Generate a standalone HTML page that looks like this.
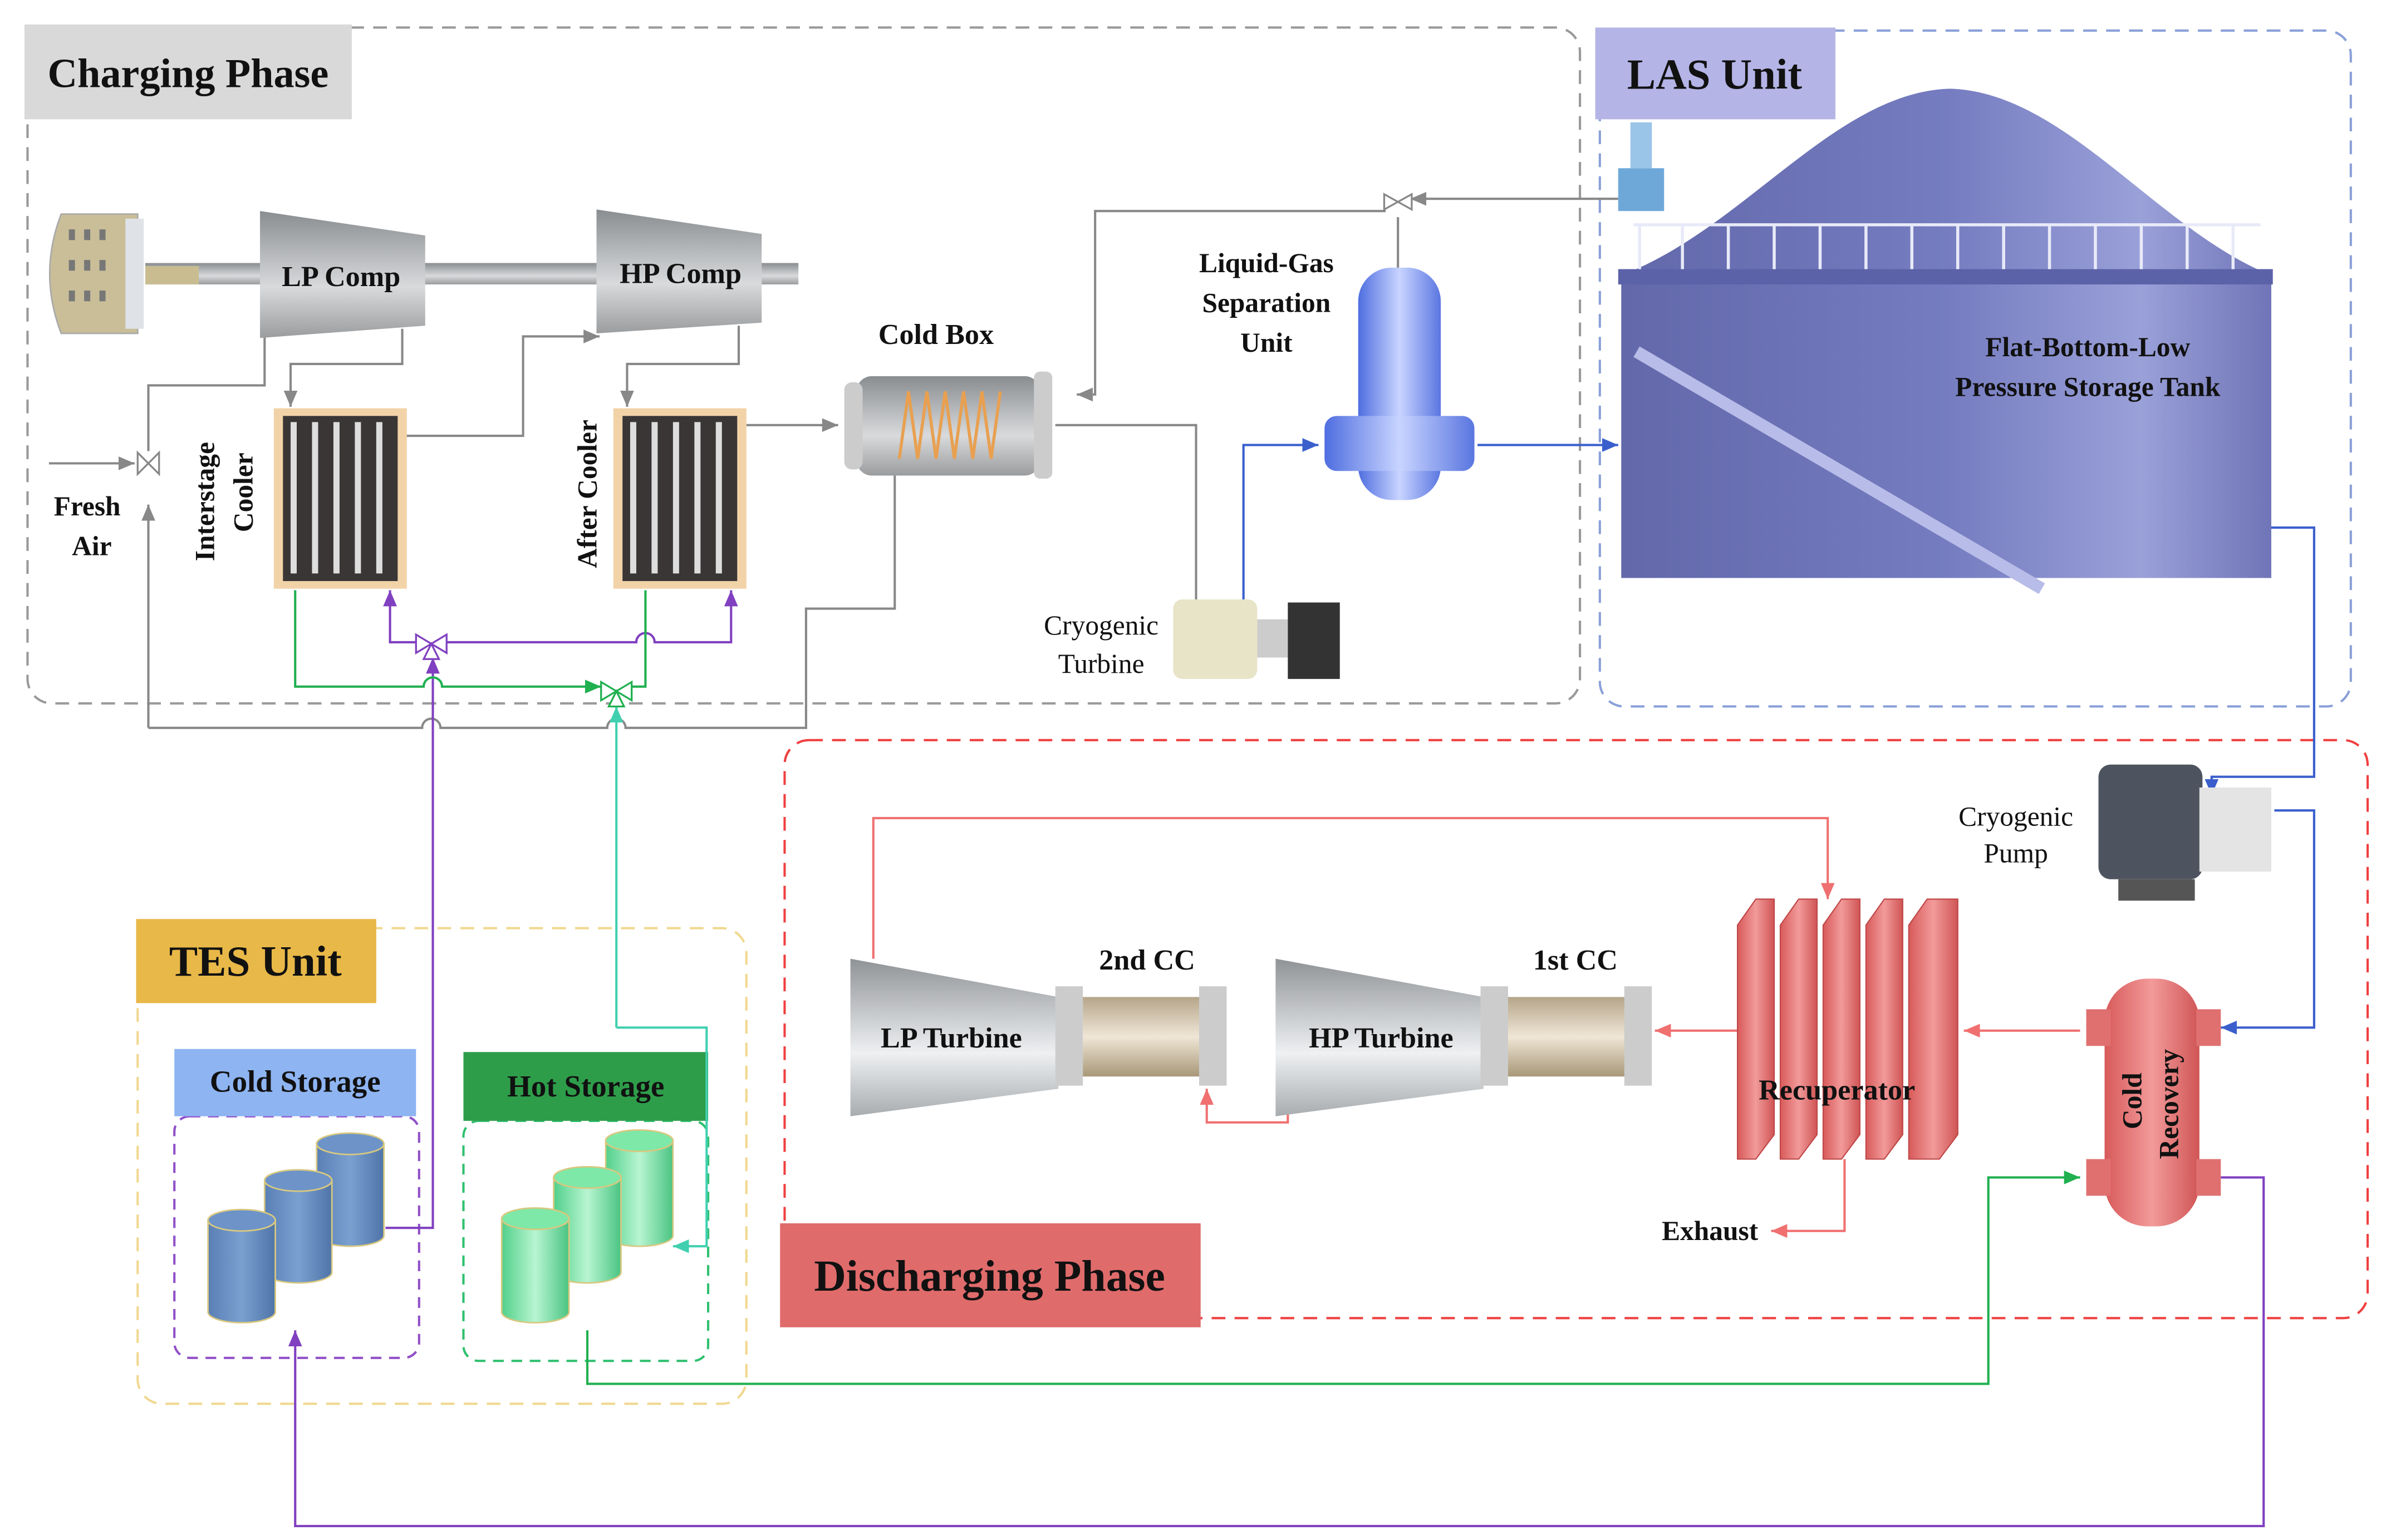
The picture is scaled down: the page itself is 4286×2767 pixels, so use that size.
<!DOCTYPE html>
<html><head><meta charset="utf-8"><style>
html,body{margin:0;padding:0;background:#fff;}
svg{display:block;}
text{font-family:"Liberation Serif",serif;font-weight:bold;fill:#111;}
.n{font-weight:normal;}
</style></head><body>
<svg width="4286" height="2767" viewBox="0 0 1560 1007.1" xmlns="http://www.w3.org/2000/svg">
<defs>
<linearGradient id="gv" x1="0" y1="0" x2="0" y2="1"><stop offset="0" stop-color="#8a8d90"/><stop offset="0.6" stop-color="#d8dadc"/><stop offset="1" stop-color="#9a9c9e"/></linearGradient>
<linearGradient id="gt" x1="0" y1="0" x2="0" y2="1"><stop offset="0" stop-color="#909396"/><stop offset="0.6" stop-color="#eef0f2"/><stop offset="1" stop-color="#a8acae"/></linearGradient>
<linearGradient id="tank" x1="0" y1="0" x2="1" y2="0"><stop offset="0" stop-color="#6268aa"/><stop offset="0.5" stop-color="#757cc0"/><stop offset="0.8" stop-color="#9aa0d8"/><stop offset="1" stop-color="#7075b8"/></linearGradient>
<linearGradient id="sep" x1="0" y1="0" x2="1" y2="0"><stop offset="0" stop-color="#4f6ee0"/><stop offset="0.5" stop-color="#c8d4ff"/><stop offset="1" stop-color="#5a76e0"/></linearGradient>
<linearGradient id="red" x1="0" y1="0" x2="1" y2="0"><stop offset="0" stop-color="#d85a5a"/><stop offset="0.5" stop-color="#f29a9a"/><stop offset="1" stop-color="#d05555"/></linearGradient>
<linearGradient id="blu" x1="0" y1="0" x2="1" y2="0"><stop offset="0" stop-color="#5a7fb5"/><stop offset="0.5" stop-color="#7aa0d0"/><stop offset="1" stop-color="#4f74a8"/></linearGradient>
<linearGradient id="grn" x1="0" y1="0" x2="1" y2="0"><stop offset="0" stop-color="#52d08a"/><stop offset="0.5" stop-color="#b8f5d2"/><stop offset="1" stop-color="#4ac482"/></linearGradient>
<linearGradient id="coil" x1="0" y1="0" x2="0" y2="1"><stop offset="0" stop-color="#b5a58a"/><stop offset="0.5" stop-color="#f0e6d6"/><stop offset="1" stop-color="#a89878"/></linearGradient>
<marker id="ag" markerWidth="8" markerHeight="8" refX="7" refY="4" orient="auto"><path d="M0,1 L7,4 L0,7z" fill="#888"/></marker>
<marker id="ab" markerWidth="8" markerHeight="8" refX="7" refY="4" orient="auto"><path d="M0,1 L7,4 L0,7z" fill="#3a5fcd"/></marker>
<marker id="ar" markerWidth="8" markerHeight="8" refX="7" refY="4" orient="auto"><path d="M0,1 L7,4 L0,7z" fill="#f07070"/></marker>
<marker id="ap" markerWidth="8" markerHeight="8" refX="7" refY="4" orient="auto"><path d="M0,1 L7,4 L0,7z" fill="#8040c0"/></marker>
<marker id="agr" markerWidth="8" markerHeight="8" refX="7" refY="4" orient="auto"><path d="M0,1 L7,4 L0,7z" fill="#20b050"/></marker>
<marker id="acy" markerWidth="8" markerHeight="8" refX="7" refY="4" orient="auto"><path d="M0,1 L7,4 L0,7z" fill="#40d0b0"/></marker>
</defs>

<rect x="18" y="18" width="1015" height="442" rx="16" fill="none" stroke="#999" stroke-width="1.5" stroke-dasharray="9,6"/>
<rect x="1046" y="20" width="491" height="442" rx="16" fill="none" stroke="#8aa0d8" stroke-width="1.5" stroke-dasharray="9,6"/>
<rect x="513" y="484" width="1035" height="378" rx="16" fill="none" stroke="#f04040" stroke-width="1.5" stroke-dasharray="9,6"/>
<rect x="90" y="607" width="398" height="311" rx="16" fill="none" stroke="#f0d890" stroke-width="1.5" stroke-dasharray="9,6"/>
<rect x="114" y="730" width="160" height="158" rx="10" fill="none" stroke="#9050c8" stroke-width="1.5" stroke-dasharray="7,5"/>
<rect x="303" y="733" width="160" height="157" rx="10" fill="none" stroke="#30c070" stroke-width="1.5" stroke-dasharray="7,5"/>

<rect x="16" y="16" width="214" height="62" fill="#d9d9d9"/>
<text x="123" y="57" font-size="27" text-anchor="middle">Charging Phase</text>
<rect x="1043" y="18" width="157" height="60" fill="#b4b4e6"/>
<text x="1121" y="58" font-size="28" text-anchor="middle">LAS Unit</text>
<rect x="510" y="800" width="275" height="68" fill="#e06b6b"/>
<text x="647" y="844" font-size="29" text-anchor="middle">Discharging Phase</text>
<rect x="89" y="601" width="157" height="55" fill="#e8b848"/>
<text x="167" y="638" font-size="28" text-anchor="middle">TES Unit</text>
<rect x="114" y="686" width="158" height="44" fill="#8eb4f2"/>
<text x="193" y="714" font-size="20" text-anchor="middle">Cold Storage</text>
<rect x="303" y="688" width="160" height="45" fill="#2e9d4a"/>
<text x="383" y="717" font-size="20" text-anchor="middle">Hot Storage</text>

<g fill="none" stroke="#888" stroke-width="1.5">
<path d="M32,303 H88" marker-end="url(#ag)"/>
<path d="M97,476 V330" marker-end="url(#ag)"/>
<path d="M97,295 V252 H173 V220"/>
<path d="M263,215 V238 H190 V266" marker-end="url(#ag)"/>
<path d="M265,285 H342 V220 H392" marker-end="url(#ag)"/>
<path d="M483,213 V238 H410 V266" marker-end="url(#ag)"/>
<path d="M488,278 H548" marker-end="url(#ag)"/>
<path d="M97,476 H276 a6,6 0 0 1 12,0 H397 a6,6 0 0 1 12,0 H527 V398 H585 V310"/>
<path d="M690,278 H782 V395"/>
<path d="M1058,130 H922" marker-end="url(#ag)"/>
<path d="M906,138 H716 V258 H704" marker-end="url(#ag)"/>
<path d="M914,142 V178"/>
</g>
<g fill="none" stroke="#3a5fcd" stroke-width="1.5">
<path d="M813,395 V291 H862" marker-end="url(#ab)"/>
<path d="M966,291 H1058" marker-end="url(#ab)"/>
<path d="M1484,345 H1513 V508 H1446 V520" marker-end="url(#ab)"/>
<path d="M1487,530 H1513 V672 H1452" marker-end="url(#ab)"/>
</g>
<g fill="none" stroke="#f07070" stroke-width="1.5">
<path d="M571,627 V535 H1195 V588" marker-end="url(#ar)"/>
<path d="M1360,674 H1284" marker-end="url(#ar)"/>
<path d="M1136,674 H1082" marker-end="url(#ar)"/>
<path d="M842,726 V734 H789 V712" marker-end="url(#ar)"/>
<path d="M1206,758 V805 H1158" marker-end="url(#ar)"/>
</g>
<g fill="none" stroke="#8040c0" stroke-width="1.5">
<path d="M252,803 H283 V430" marker-end="url(#ap)"/>
<path d="M275,420 H255 V386" marker-end="url(#ap)"/>
<path d="M292,420 H416 a6,6 0 0 1 12,0 H478 V386" marker-end="url(#ap)"/>
<path d="M1452,770 H1480 V998 H193 V870" marker-end="url(#ap)"/>
</g>
<g fill="none" stroke="#20b050" stroke-width="1.5">
<path d="M193,386 V449 H277 a6,6 0 0 1 12,0 H393" marker-end="url(#agr)"/>
<path d="M422,386 V449 H412"/>
<path d="M384,870 V905 H1300 V770 H1360" marker-end="url(#agr)"/>
</g>
<path d="M403,672 V462" fill="none" stroke="#40d0b0" stroke-width="1.5" marker-end="url(#acy)"/>
<path d="M403,672 H462 V815 H440" fill="none" stroke="#40d0b0" stroke-width="1.5" marker-end="url(#acy)"/>

<g stroke="#888" fill="#fff" stroke-width="1.2">
<path d="M90,296 L104,310 L104,296 L90,310z"/>
<path d="M905,127 L923,137 L923,127 L905,137z"/>
</g>
<g stroke="#8040c0" fill="#fff" stroke-width="1.2"><path d="M272,415 L292,427 L292,415 L272,427z"/><path d="M282,421 L277,431 H287z"/></g>
<g stroke="#20b050" fill="#fff" stroke-width="1.2"><path d="M393,446 L413,458 L413,446 L393,458z"/><path d="M403,452 L398,462 H408z"/></g>

<rect x="95" y="172" width="427" height="14" fill="url(#gv)"/>
<rect x="95" y="174" width="35" height="12" fill="#c8bc90"/>
<path d="M40,140 H90 V218 H40 Q25,179 40,140z" fill="#c9be98" stroke="#aaa"/>
<rect x="82" y="143" width="12" height="72" fill="#dfe3e8"/>
<g fill="#777"><rect x="45" y="150" width="4" height="7"/><rect x="55" y="150" width="4" height="7"/><rect x="65" y="150" width="4" height="7"/><rect x="45" y="170" width="4" height="7"/><rect x="55" y="170" width="4" height="7"/><rect x="65" y="170" width="4" height="7"/><rect x="45" y="190" width="4" height="7"/><rect x="55" y="190" width="4" height="7"/><rect x="65" y="190" width="4" height="7"/></g>

<path d="M170,138 L278,154 V213 L170,221z" fill="url(#gv)"/>
<text x="223" y="187" font-size="19" text-anchor="middle">LP Comp</text>
<path d="M390,137 L498,153 V211 L390,218z" fill="url(#gv)"/>
<text x="445" y="185" font-size="19" text-anchor="middle">HP Comp</text>

<g>
<rect x="179" y="267" width="87" height="118" fill="#f2d3a8"/>
<rect x="185" y="272" width="75" height="108" fill="#3a3636"/>
<path d="M192,276 V375 M206,276 V375 M220,276 V375 M234,276 V375 M248,276 V375" stroke="#ddd" stroke-width="4"/>
<rect x="401" y="267" width="87" height="118" fill="#f2d3a8"/>
<rect x="407" y="272" width="75" height="108" fill="#3a3636"/>
<path d="M414,276 V375 M428,276 V375 M442,276 V375 M456,276 V375 M470,276 V375" stroke="#ddd" stroke-width="4"/>
</g>
<text transform="translate(140,328) rotate(-90)" font-size="18" text-anchor="middle">Interstage</text>
<text transform="translate(165,322) rotate(-90)" font-size="18" text-anchor="middle">Cooler</text>
<text transform="translate(390,323) rotate(-90)" font-size="18" text-anchor="middle">After Cooler</text>
<text x="57" y="337" font-size="18" text-anchor="middle">Fresh</text>
<text x="60" y="363" font-size="18" text-anchor="middle">Air</text>

<rect x="560" y="246" width="120" height="65" rx="10" fill="url(#gv)"/>
<rect x="552" y="250" width="12" height="57" rx="5" fill="#ccc"/>
<rect x="676" y="243" width="12" height="70" rx="4" fill="#ccc"/>
<path d="M588,300 L594,256 L600,300 L606,256 L612,300 L618,256 L624,300 L630,256 L636,300 L642,256 L648,300 L654,256" fill="none" stroke="#e8a050" stroke-width="2"/>
<text x="612" y="225" font-size="19" text-anchor="middle">Cold Box</text>

<text x="828" y="178" font-size="18" text-anchor="middle">Liquid-Gas</text>
<text x="828" y="204" font-size="18" text-anchor="middle">Separation</text>
<text x="828" y="230" font-size="18" text-anchor="middle">Unit</text>
<rect x="888" y="175" width="54" height="152" rx="22" fill="url(#sep)"/>
<rect x="866" y="272" width="98" height="36" rx="8" fill="url(#sep)"/>

<rect x="767" y="392" width="55" height="52" rx="6" fill="#e8e4c8"/>
<rect x="822" y="405" width="20" height="25" fill="#ccc"/>
<rect x="842" y="394" width="34" height="50" fill="#333"/>
<text x="720" y="415" font-size="18" class="n" text-anchor="middle">Cryogenic</text>
<text x="720" y="440" font-size="18" class="n" text-anchor="middle">Turbine</text>

<path d="M1060,180 C1140,150 1200,60 1275,58 C1350,60 1410,150 1485,180 V378 H1060z" fill="url(#tank)"/>
<rect x="1058" y="176" width="428" height="10" fill="#5c62a8"/>
<g stroke="#e8eaf8" stroke-width="2">
<path d="M1068,147 H1478 M1072,147 V176 M1100,147 V176 M1130,147 V176 M1160,147 V176 M1190,147 V176 M1220,147 V176 M1250,147 V176 M1280,147 V176 M1310,147 V176 M1340,147 V176 M1370,147 V176 M1400,147 V176 M1430,147 V176 M1460,147 V176"/>
</g>
<path d="M1070,230 L1335,385" stroke="#b8bce8" stroke-width="8" fill="none"/>
<rect x="1058" y="110" width="30" height="28" fill="#6ea8d8"/>
<rect x="1066" y="80" width="14" height="30" fill="#9ac4e8"/>
<text x="1365" y="233" font-size="18" text-anchor="middle">Flat-Bottom-Low</text>
<text x="1365" y="259" font-size="18" text-anchor="middle">Pressure Storage Tank</text>

<rect x="1372" y="500" width="68" height="75" rx="8" fill="#4d5460"/>
<rect x="1438" y="515" width="47" height="55" fill="#e4e4e4"/>
<rect x="1385" y="575" width="50" height="14" fill="#555"/>
<text x="1318" y="540" font-size="18" class="n" text-anchor="middle">Cryogenic</text>
<text x="1318" y="564" font-size="18" class="n" text-anchor="middle">Pump</text>

<path d="M556,627 L692,652 V712 L556,730z" fill="url(#gt)"/>
<rect x="690" y="645" width="18" height="65" fill="#ccc"/>
<rect x="708" y="652" width="78" height="52" fill="url(#coil)"/>
<rect x="784" y="645" width="18" height="65" fill="#ccc"/>
<text x="622" y="685" font-size="19" text-anchor="middle">LP Turbine</text>
<text x="750" y="634" font-size="19" text-anchor="middle">2nd CC</text>
<path d="M834,627 L970,652 V712 L834,730z" fill="url(#gt)"/>
<rect x="968" y="645" width="18" height="65" fill="#ccc"/>
<rect x="986" y="652" width="78" height="52" fill="url(#coil)"/>
<rect x="1062" y="645" width="18" height="65" fill="#ccc"/>
<text x="903" y="685" font-size="19" text-anchor="middle">HP Turbine</text>
<text x="1030" y="634" font-size="19" text-anchor="middle">1st CC</text>

<g fill="url(#red)" stroke="#c04848" stroke-width="0.8">
<path d="M1136,605 L1148,588 H1160 V742 L1148,758 H1136z"/>
<path d="M1164,605 L1176,588 H1188 V742 L1176,758 H1164z"/>
<path d="M1192,605 L1204,588 H1216 V742 L1204,758 H1192z"/>
<path d="M1220,605 L1232,588 H1244 V742 L1232,758 H1220z"/>
<path d="M1248,605 L1260,588 H1280 V742 L1268,758 H1248z"/>
</g>
<text x="1201" y="719" font-size="19" text-anchor="middle">Recuperator</text>
<text x="1118" y="811" font-size="18" text-anchor="middle">Exhaust</text>

<rect x="1376" y="640" width="62" height="162" rx="28" fill="url(#red)"/>
<rect x="1364" y="660" width="16" height="24" fill="#e07070"/><rect x="1436" y="660" width="16" height="24" fill="#e07070"/>
<rect x="1364" y="758" width="16" height="24" fill="#e07070"/><rect x="1436" y="758" width="16" height="24" fill="#e07070"/>
<text transform="translate(1400,720) rotate(-90)" font-size="18" text-anchor="middle">Cold</text>
<text transform="translate(1424,722) rotate(-90)" font-size="18" text-anchor="middle">Recovery</text>

<g stroke="#d8c880" stroke-width="1">
<path d="M207,748 V808 A22,7 0 0 0 251,808 V748z" fill="url(#blu)"/><ellipse cx="229" cy="748" rx="22" ry="7" fill="#6d93c8"/>
<path d="M173,772 V832 A22,7 0 0 0 217,832 V772z" fill="url(#blu)"/><ellipse cx="195" cy="772" rx="22" ry="7" fill="#6d93c8"/>
<path d="M136,798 V858 A22,7 0 0 0 180,858 V798z" fill="url(#blu)"/><ellipse cx="158" cy="798" rx="22" ry="7" fill="#6d93c8"/>
<path d="M396,746 V808 A22,7 0 0 0 440,808 V746z" fill="url(#grn)"/><ellipse cx="418" cy="746" rx="22" ry="7" fill="#7de8a8"/>
<path d="M362,770 V832 A22,7 0 0 0 406,832 V770z" fill="url(#grn)"/><ellipse cx="384" cy="770" rx="22" ry="7" fill="#7de8a8"/>
<path d="M328,797 V858 A22,7 0 0 0 372,858 V797z" fill="url(#grn)"/><ellipse cx="350" cy="797" rx="22" ry="7" fill="#7de8a8"/>
</g>
</svg>
</body></html>
